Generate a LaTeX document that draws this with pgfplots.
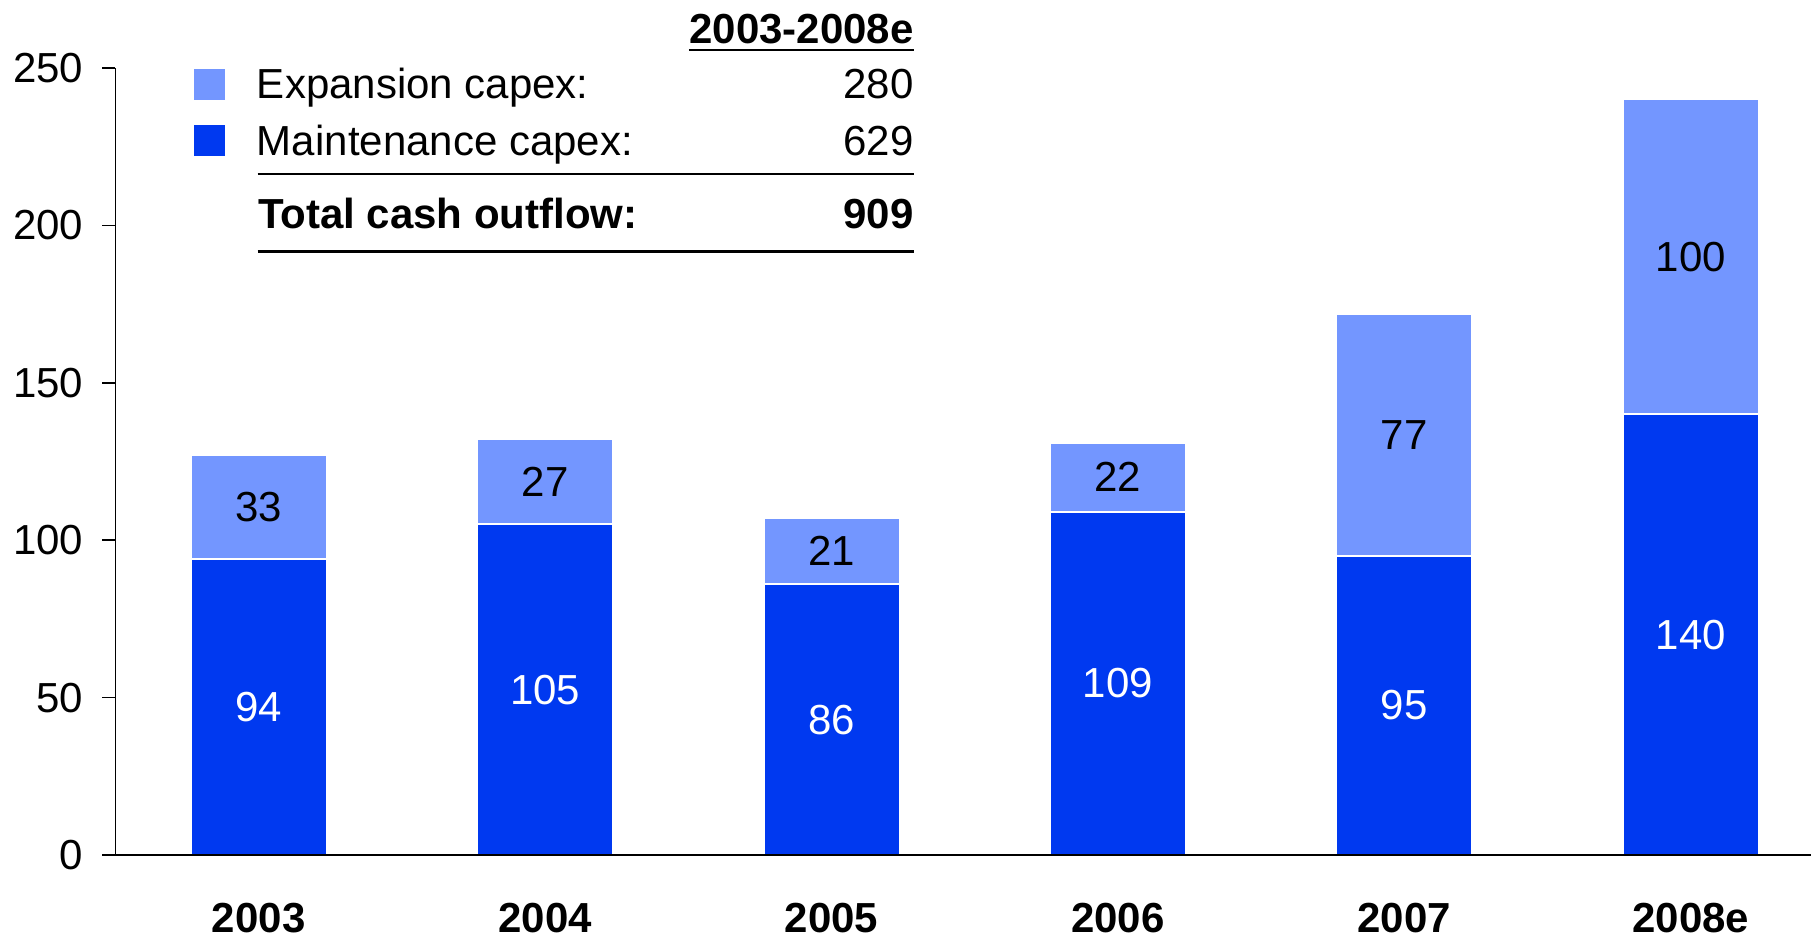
\documentclass[border=0pt]{standalone}
\usepackage{fontspec}
\setmainfont{Liberation Sans}
\usepackage{pgfplots}
\pgfplotsset{compat=1.18}
\definecolor{expc}{RGB}{115,150,255}
\definecolor{mntc}{RGB}{0,57,240}
\begin{document}
\fontsize{21pt}{25pt}\selectfont
\begin{tikzpicture}[font=\fontsize{21pt}{25pt}\selectfont]
\path[use as bounding box] (0,0) rectangle (905.5pt,469.5pt);
\pgfplotsset{
  common/.style={
    at={(57.75pt,42pt)}, anchor=south west,
    scale only axis, width=847.75pt, height=393.5pt,
    xmin=-0.5, xmax=5.42, ymin=0, ymax=250,
    enlargelimits=false,
  }
}
\begin{axis}[common,
  ybar stacked, bar width=68pt,
  axis on top,
  axis lines*=left,
  axis line style={-, line width=0.8pt, black},
  xtick={0,1,2,3,4,5},
  xticklabels={2003,2004,2005,2006,2007,2008e},
  xtick style={draw=none},
  ytick={0,50,100,150,200,250},
  ytick style={line width=0.8pt, black},
  tick align=outside,
  major tick length=6.5pt,
  /pgf/number format/assume math mode=true,
  tick label style={font=\fontsize{21pt}{25pt}\selectfont},
  xticklabel style={font=\fontsize{21pt}{25pt}\selectfont\bfseries, anchor=base, yshift=-32pt},
  yticklabel style={anchor=east, inner sep=0pt, xshift=-9.5pt},
  reverse legend,
  legend cell align=left,
  legend image code/.code={\fill[#1, draw=none] (0pt,-7.5pt) rectangle (15.5pt,8pt);},
  legend style={draw=none, fill=none, inner sep=0pt, outer sep=0pt,
    at={(0.0463,0.99873)}, anchor=north west,
    row sep=12pt, column sep=16pt,
    nodes={inner sep=0pt, outer sep=0pt, text height=15pt, text depth=1pt}},
]
\addplot[fill=mntc, draw=white, line width=1pt] coordinates {(0,94) (1,105) (2,86) (3,109) (4,95) (5,140)};
\addlegendentry{\makebox[328.2pt][l]{Maintenance capex:\hfill 629}}
\addplot[fill=expc, draw=white, line width=1pt] coordinates {(0,33) (1,27) (2,21) (3,22) (4,77) (5,100)};
\addlegendentry{\makebox[328.2pt][l]{Expansion capex:\hfill 280}}
\end{axis}
\begin{axis}[common, hide axis, clip=false]
\addplot[draw=none, mark=none, nodes near coords, point meta=explicit symbolic,
  every node near coord/.style={anchor=center, text=white, font=\fontsize{21pt}{25pt}\selectfont}]
  coordinates {(0,47)[94] (1,52.5)[105] (2,43)[86] (3,54.5)[109] (4,47.5)[95] (5,70)[140]};
\addplot[draw=none, mark=none, nodes near coords, point meta=explicit symbolic,
  every node near coord/.style={anchor=center, text=black, font=\fontsize{21pt}{25pt}\selectfont}]
  coordinates {(0,110.5)[33] (1,118.5)[27] (2,96.5)[21] (3,120)[22] (4,133.5)[77] (5,190)[100]};
\end{axis}
\node[anchor=base east, inner sep=0pt] (hdr) at (457pt,447.9pt) {\bfseries 2003-2008e};
\draw[line width=1.3pt] ([yshift=-3.4pt]hdr.base west) -- ([yshift=-3.4pt]hdr.base east);
\draw[line width=1.3pt] (128.8pt,382.5pt) -- (457pt,382.5pt);
\node[anchor=base west, inner sep=0pt] at (128.8pt,355pt) {\bfseries Total cash outflow:};
\node[anchor=base east, inner sep=0pt] at (457pt,355pt) {\bfseries 909};
\draw[line width=1.3pt] (128.8pt,343.6pt) -- (457pt,343.6pt);
\end{tikzpicture}
\end{document}
